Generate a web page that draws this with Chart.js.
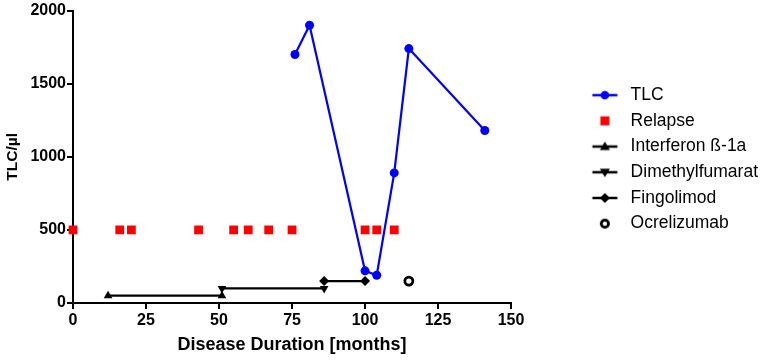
<!DOCTYPE html>
<html>
<head>
<meta charset="utf-8">
<script src="https://cdn.jsdelivr.net/npm/chart.js@4.4.1/dist/chart.umd.min.js"></script>
<style>
html,body{margin:0;padding:0;background:#fff;}
#wrap{width:765px;height:360px;position:relative;}
</style>
</head>
<body>
<div id="wrap"><canvas id="c" width="765" height="360"></canvas></div>
<script>
// ---- data ----
const tlcMonths = [76, 81, 100, 104, 110, 115, 141];
const tlcValues = [1700, 1900, 220, 190, 890, 1740, 1180];
const relapseMonths = [0, 16, 20, 43, 55, 60, 67, 75, 100, 104, 110];
const relapseLevel = 500;
const interferonMonths = [12, 51];
const interferonLevel = 50;
const dimethylMonths = [51, 86];
const dimethylLevel = 100;
const fingolimodMonths = [86, 100];
const fingolimodLevel = 150;
const ocrelizumabMonths = [115];
const ocrelizumabLevel = 150;
const xTicks = [0, 25, 50, 75, 100, 125, 150];
const yTicks = [0, 500, 1000, 1500, 2000];
const seriesNames = ['TLC', 'Relapse', 'Interferon ß-1a', 'Dimethylfumarat', 'Fingolimod', 'Ocrelizumab'];

const toPts = (xs, ys) => xs.map((x, i) => ({x: x, y: Array.isArray(ys) ? ys[i] : ys}));

Chart.defaults.font.family = "'Liberation Sans', Arial, sans-serif";
Chart.defaults.color = '#000';

// legend sample images (line + marker)
function sample(kind) {
  const cv = document.createElement('canvas');
  cv.width = 28; cv.height = 14;
  const g = cv.getContext('2d');
  const cx = 14, cy = 7;
  const col = kind === 'tlc' ? '#0000ff' : (kind === 'relapse' ? '#ff0000' : '#000');
  if (kind !== 'relapse' && kind !== 'ocr') {
    g.strokeStyle = col; g.lineWidth = 2.5;
    g.beginPath(); g.moveTo(1.5, cy); g.lineTo(26.5, cy); g.stroke();
  }
  g.fillStyle = col;
  g.beginPath();
  if (kind === 'tlc') { g.arc(cx, cy, 4.3, 0, Math.PI * 2); g.fill(); }
  else if (kind === 'relapse') { g.fillRect(cx - 4.5, cy - 4.5, 9, 9); }
  else if (kind === 'ifn') { g.moveTo(cx, cy - 5); g.lineTo(cx + 5, cy + 3.5); g.lineTo(cx - 5, cy + 3.5); g.closePath(); g.fill(); }
  else if (kind === 'dmf') { g.moveTo(cx, cy + 5); g.lineTo(cx + 5, cy - 3.5); g.lineTo(cx - 5, cy - 3.5); g.closePath(); g.fill(); }
  else if (kind === 'fin') { g.moveTo(cx, cy - 5); g.lineTo(cx + 5, cy); g.lineTo(cx, cy + 5); g.lineTo(cx - 5, cy); g.closePath(); g.fill(); }
  else if (kind === 'ocr') { g.strokeStyle = '#000'; g.lineWidth = 2.8; g.arc(cx, cy, 3.6, 0, Math.PI * 2); g.stroke(); }
  return cv;
}
const samples = [sample('tlc'), sample('relapse'), sample('ifn'), sample('dmf'), sample('fin'), sample('ocr')];

const common = {clip: false, showLine: true, borderWidth: 2.2};

new Chart(document.getElementById('c'), {
  type: 'scatter',
  data: {
    datasets: [
      Object.assign({}, common, {label: seriesNames[0], data: toPts(tlcMonths, tlcValues),
        borderColor: '#0000ff', backgroundColor: '#0000ff', pointStyle: 'circle', pointRadius: 4.5, pointBorderWidth: 0, order: 2}),
      Object.assign({}, common, {label: seriesNames[1], data: toPts(relapseMonths, relapseLevel), showLine: false,
        borderColor: '#ff0000', backgroundColor: '#ff0000', pointStyle: 'rect', pointRadius: 6.2, pointBorderWidth: 0, order: 1}),
      Object.assign({}, common, {label: seriesNames[2], data: toPts(interferonMonths, interferonLevel),
        borderColor: '#000', backgroundColor: '#000', pointStyle: 'triangle', pointRadius: 5, pointBorderWidth: 0}),
      Object.assign({}, common, {label: seriesNames[3], data: toPts(dimethylMonths, dimethylLevel),
        borderColor: '#000', backgroundColor: '#000', pointStyle: 'triangle', pointRotation: 180, pointRadius: 5, pointBorderWidth: 0}),
      Object.assign({}, common, {label: seriesNames[4], data: toPts(fingolimodMonths, fingolimodLevel),
        borderColor: '#000', backgroundColor: '#000', pointStyle: 'rectRot', pointRadius: 5, pointBorderWidth: 0}),
      Object.assign({}, common, {label: seriesNames[5], data: toPts(ocrelizumabMonths, ocrelizumabLevel), showLine: false,
        borderColor: '#000', backgroundColor: '#fff', pointStyle: 'circle', pointRadius: 4, pointBorderWidth: 2.8})
    ]
  },
  options: {
    responsive: false,
    animation: false,
    layout: {padding: {top: 9, right: -3, bottom: 0, left: 0}},
    plugins: {
      tooltip: {enabled: false},
      legend: {
        position: 'right',
        fullSize: false,
        align: 'center',
        maxWidth: 210,
        title: {display: true, text: ' ', font: {size: 1}, padding: 2},
        labels: {
          usePointStyle: true,
          pointStyleWidth: 34,
          padding: 8.2,
          color: '#000',
          font: {size: 17.5, family: "'Liberation Sans', Arial, sans-serif"},
          generateLabels: (chart) => chart.data.datasets.map((ds, i) => ({
            text: ds.label, pointStyle: samples[i], datasetIndex: i, hidden: false,
            fillStyle: '#000', strokeStyle: '#000', lineWidth: 0, fontColor: '#000'
          }))
        }
      }
    },
    scales: {
      x: {
        type: 'linear', min: 0, max: 150,
        afterBuildTicks: (s) => { s.ticks = xTicks.map(v => ({value: v})); },
        afterFit: (s) => { s.height = 57; },
        grid: {drawOnChartArea: false, color: '#000', lineWidth: 2, tickLength: 6},
        border: {color: '#000', width: 2},
        ticks: {font: {size: 16, weight: 'bold'}, color: '#000', padding: 2, maxRotation: 0, callback: (v) => String(v)},
        title: {display: true, text: 'Disease Duration [months]', color: '#000',
          font: {size: 18, weight: 'bold'}, padding: {top: 0, bottom: 4}}
      },
      y: {
        type: 'linear', min: 0, max: 2000,
        afterBuildTicks: (s) => { s.ticks = yTicks.map(v => ({value: v})); },
        afterFit: (s) => { s.width = 73; },
        grid: {drawOnChartArea: false, color: '#000', lineWidth: 2, tickLength: 6},
        border: {color: '#000', width: 2},
        ticks: {font: {size: 16, weight: 'bold'}, color: '#000', padding: 1, callback: (v) => String(v)},
        title: {display: true, text: 'TLC/µl', color: '#000',
          font: {size: 15.5, weight: 'bold'}, padding: {top: 3, bottom: 0}}
      },
      gap: {
        type: 'linear', position: 'right', display: true,
        afterFit: (s) => { s.width = 68.6; },
        grid: {display: false}, border: {display: false}, ticks: {display: false}
      }
    }
  }
});
</script>
</body>
</html>
